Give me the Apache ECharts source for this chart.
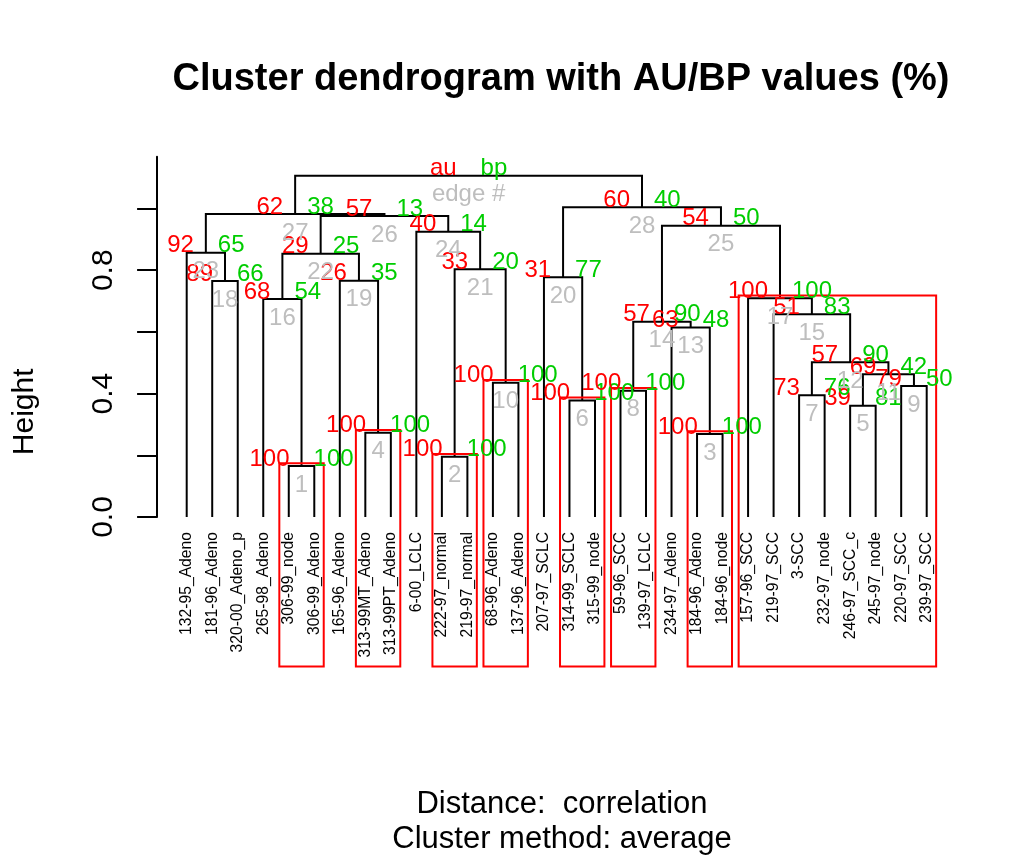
<!DOCTYPE html>
<html><head><meta charset="utf-8">
<script src="https://cdn.jsdelivr.net/npm/echarts@6/dist/echarts.min.js"></script>
<style>html,body{margin:0;padding:0;background:#fff}#c{width:1036px;height:864px}</style>
</head><body><div id="c"></div>
<script>
// Leaf labels in dendrogram order (left to right)
const leafLabels = ['132-95_Adeno','181-96_Adeno','320-00_Adeno_p','265-98_Adeno','306-99_node','306-99_Adeno',
  '165-96_Adeno','313-99MT_Adeno','313-99PT_Adeno','6-00_LCLC','222-97_normal','219-97_normal',
  '68-96_Adeno','137-96_Adeno','207-97_SCLC','314-99_SCLC','315-99_node','59-96_SCC','139-97_LCLC',
  '234-97_Adeno','184-96_Adeno','184-96_node','157-96_SCC','219-97_SCC','3-SCC','232-97_node',
  '246-97_SCC_c','245-97_node','220-97_SCC','239-97_SCC'];
// Merges (edge 1..28, then root). Negative = leaf number (1-based), positive = edge number
const mergeLeft  = [-5,-11,-21,-8,-27,-16,-25,-18,-29,-13, 5, 7,-20, 8,-24,-4,-23,-2,-7,-15, 2,16,-1,-10,14,22,23,20,27];
const mergeRight = [-6,-12,-22,-9,-28,-17,-26,-19,-30,-14, 9,11,  3,13, 12, 1, 15,-3, 4,  6,10,19,18, 21,17,24,26,25,28];
const mergeHeight = [0.165,0.195,0.269,0.273,0.361,0.378,0.395,0.409,0.425,0.435,0.4625,0.502,0.614,0.633,0.657,
  0.707,0.709,0.765,0.766,0.777,0.803,0.853,0.857,0.925,0.944,0.976,0.982,1.004,1.106];
const auValues = [100,100,100,100,39,100,73,100,79,100,69,57,63,57,51,68,100,89,26,31,33,29,92,40,54,57,62,60];
const bpValues = [100,100,100,100,81,100,76,100,50,100,42,90,48,90,83,54,100,66,35,77,20,25,65,14,50,13,38,40];
const rootLabels = ['au','bp','edge #'];
const rectEdges = [17,10,8,6,4,3,2,1];
const yTickValues = [0,0.2,0.4,0.6,0.8,1.0];
const yLabelValues = [0,0.4,0.8];
const mainTitle = 'Cluster dendrogram with AU/BP values (%)';
const subLines = ['Distance:  correlation','Cluster method: average'];

const FONT = 'Liberation Sans, Arial, Helvetica, sans-serif';
const nMerge = mergeHeight.length;
function nodeX(r){ return r < 0 ? -r : centers[r-1]; }
function nodeH(r){ return r < 0 ? 0 : mergeHeight[r-1]; }
function nodeMin(r){ return r < 0 ? -r : mins[r-1]; }
function nodeMax(r){ return r < 0 ? -r : maxs[r-1]; }
const centers = [], mins = [], maxs = [];
for (let i=0;i<nMerge;i++){
  centers[i] = (nodeX(mergeLeft[i]) + nodeX(mergeRight[i]))/2;
  mins[i] = Math.min(nodeMin(mergeLeft[i]), nodeMin(mergeRight[i]));
  maxs[i] = Math.max(nodeMax(mergeLeft[i]), nodeMax(mergeRight[i]));
}
const treeLines = [];
for (let i=0;i<nMerge;i++){
  const l = mergeLeft[i], r = mergeRight[i], h = mergeHeight[i];
  treeLines.push({coords:[[nodeX(l),nodeH(l)],[nodeX(l),h],[nodeX(r),h],[nodeX(r),nodeH(r)]]});
}
const labelData = [];
for (let i=0;i<nMerge;i++){
  const isRoot = i === nMerge-1;
  labelData.push([centers[i], mergeHeight[i],
    isRoot ? rootLabels[0] : String(auValues[i]),
    isRoot ? rootLabels[1] : String(bpValues[i]),
    isRoot ? rootLabels[2] : String(i+1)]);
}
const rectBottom = -0.485;
const rectData = rectEdges.map(e => [mins[e-1], maxs[e-1], mergeHeight[e-1]]);

const chart = echarts.init(document.getElementById('c'), null, {renderer:'canvas'});
chart.setOption({
  animation:false,
  backgroundColor:'#fff',
  textStyle:{fontFamily:FONT},
  title:[
    {text:mainTitle, left:556, top:56, textAlign:'center', textStyle:{fontSize:38, fontWeight:'bold', color:'#000', fontFamily:FONT}},
    {text:subLines[0], left:557, top:784, textAlign:'center', textStyle:{fontSize:31, fontWeight:'normal', color:'#000', fontFamily:FONT}},
    {text:subLines[1], left:557, top:819, textAlign:'center', textStyle:{fontSize:31, fontWeight:'normal', color:'#000', fontFamily:FONT}}
  ],
  grid:[
    {left:157.1, right:79.7, top:156.7, bottom:347},
    {left:173.9, right:96.5, top:156.7, bottom:347}
  ],
  xAxis:[
    {gridIndex:0, type:'value', min:-0.16, max:31.16, show:false},
    {gridIndex:1, type:'category', data:leafLabels, boundaryGap:true,
     axisLine:{show:false}, axisTick:{show:false},
     axisLabel:{interval:0, rotate:90, margin:15, fontSize:15.7, color:'#000', fontFamily:FONT}}
  ],
  yAxis:[
    {gridIndex:0, type:'value', min:0, max:1.168, interval:0.2,
     axisLine:{show:true, onZero:false, lineStyle:{color:'#000', width:2}},
     axisTick:{show:true, length:20, customValues:yTickValues, lineStyle:{color:'#000', width:2}},
     axisLabel:{rotate:90, margin:38, fontSize:30, color:'#000', fontFamily:FONT, customValues:yLabelValues,
       formatter:v => Number(v).toFixed(1)},
     splitLine:{show:false},
     name:'Height', nameLocation:'middle', nameRotate:90, nameGap:117,
     nameTextStyle:{fontSize:30, color:'#000', fontFamily:FONT, padding:[0,150,0,0]}},
    {gridIndex:1, type:'value', min:0, max:1.168, show:false}
  ],
  series:[
    {type:'lines', coordinateSystem:'cartesian2d', xAxisIndex:0, yAxisIndex:0, polyline:true,
     silent:true, lineStyle:{color:'#000', width:2, opacity:1}, data:treeLines},
    {type:'custom', coordinateSystem:'cartesian2d', xAxisIndex:0, yAxisIndex:0, silent:true, clip:false,
     data:rectData,
     renderItem:(params, api) => {
       const a = api.coord([api.value(0)-0.37, api.value(2)+0.009]);
       const b = api.coord([api.value(1)+0.37, rectBottom]);
       return {type:'rect', shape:{x:a[0], y:a[1], width:b[0]-a[0], height:b[1]-a[1]},
         style:{fill:'none', stroke:'#FF0000', lineWidth:2}};
     }},
    {type:'custom', coordinateSystem:'cartesian2d', xAxisIndex:0, yAxisIndex:0, silent:true, clip:false,
     data:labelData,
     renderItem:(params, api) => {
       const p = api.coord([api.value(0), api.value(1)]);
       const d = labelData[params.dataIndex];
       return {type:'group', children:[
         {type:'text', x:p[0]-12, y:p[1]-7, style:{text:d[2], fill:'#FF0000', fontSize:24, fontFamily:FONT, align:'right', verticalAlign:'middle'}},
         {type:'text', x:p[0]+12, y:p[1]-7, style:{text:d[3], fill:'#00CD00', fontSize:24, fontFamily:FONT, align:'left', verticalAlign:'middle'}},
         {type:'text', x:p[0], y:p[1]+19, style:{text:d[4], fill:'#BEBEBE', fontSize:24, fontFamily:FONT, align:'center', verticalAlign:'middle'}}
       ]};
     }}
  ]
});
</script></body></html>
